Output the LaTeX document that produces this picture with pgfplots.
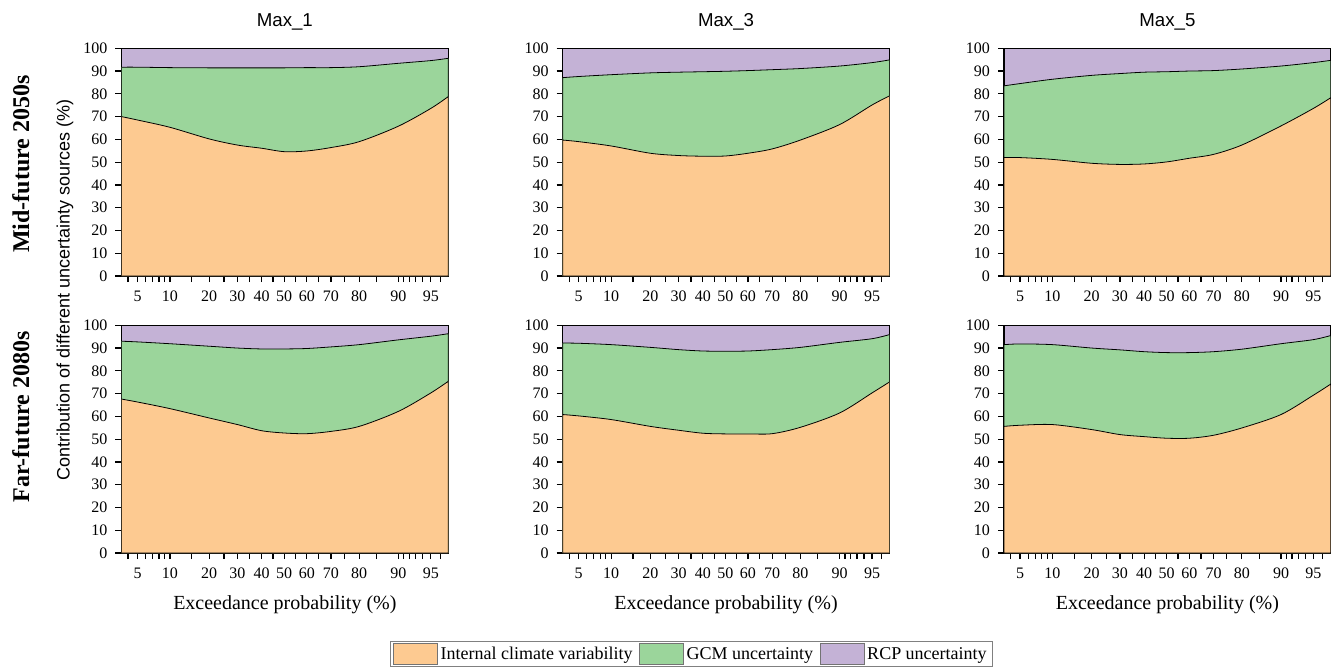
\documentclass[border=0pt]{standalone}
\usepackage{fontspec}
\setmainfont{Liberation Serif}
\setsansfont{Liberation Sans}
\usepackage{pgfplots}
\usepackage{pgfplotstable}
\pgfplotsset{compat=1.18}
\definecolor{orangeC}{RGB}{253,202,145}
\definecolor{greenC}{RGB}{155,213,155}
\definecolor{purpleC}{RGB}{196,178,214}

% columns: z (probit of exceedance probability), internal (lower), internal+GCM (upper)
\pgfplotstableread{
z lo hi
-1.825 70.0 91.7
-1.6449 68.5 91.7
-1.2816 65.3 91.5
-0.8416 60.2 91.4
-0.5244 57.5 91.4
-0.2533 56.1 91.4
0 54.6 91.4
0.2533 54.9 91.5
0.5244 56.4 91.5
0.8416 59.0 91.9
1.2816 65.8 93.4
1.6449 73.6 94.6
1.84 78.8 95.6
}\dataA
\pgfplotstableread{
z lo hi
-1.825 59.7 87.1
-1.6449 59.0 87.6
-1.2816 57.1 88.4
-0.8416 53.9 89.2
-0.5244 52.9 89.5
-0.2533 52.6 89.7
0 52.7 89.9
0.2533 53.9 90.2
0.5244 55.8 90.6
0.8416 59.7 91.1
1.2816 66.5 92.2
1.6449 75.1 93.7
1.84 79.1 94.9
}\dataB
\pgfplotstableread{
z lo hi
-1.825 52.0 83.5
-1.6449 52.0 84.5
-1.2816 51.2 86.4
-0.8416 49.5 88.1
-0.5244 49.0 88.9
-0.2533 49.2 89.5
0 50.1 89.7
0.2533 51.7 90.0
0.5244 53.4 90.2
0.8416 57.5 90.9
1.2816 65.9 92.2
1.6449 73.6 93.7
1.84 78.3 94.7
}\dataC
\pgfplotstableread{
z lo hi
-1.825 67.6 93.0
-1.6449 66.3 92.7
-1.2816 63.4 91.9
-0.8416 59.3 90.8
-0.5244 56.4 90.0
-0.2533 53.7 89.6
0 52.7 89.6
0.2533 52.4 89.8
0.5244 53.4 90.5
0.8416 55.6 91.5
1.2816 62.2 93.6
1.6449 70.3 95.2
1.84 75.4 96.3
}\dataD
\pgfplotstableread{
z lo hi
-1.825 60.8 92.2
-1.6449 60.2 92.1
-1.2816 58.6 91.5
-0.8416 55.6 90.3
-0.5244 53.9 89.3
-0.2533 52.6 88.7
0 52.3 88.6
0.2533 52.3 88.7
0.5244 52.4 89.3
0.8416 55.2 90.3
1.2816 61.5 92.5
1.6449 70.3 94.1
1.84 75.1 95.9
}\dataE
\pgfplotstableread{
z lo hi
-1.825 55.6 91.5
-1.6449 56.1 91.8
-1.2816 56.4 91.5
-0.8416 54.2 90.0
-0.5244 52.0 89.2
-0.2533 51.1 88.4
0 50.4 88.0
0.2533 50.4 88.0
0.5244 51.7 88.4
0.8416 54.9 89.5
1.2816 60.8 91.9
1.6449 69.3 93.7
1.84 74.2 95.5
}\dataF

\pgfplotsset{
 panel/.style={
  scale only axis, width=245.1pt, height=170.8pt,
  anchor=south west,
  xmin=-1.825, xmax=1.84, ymin=0, ymax=100,
  axis background/.style={fill=purpleC},
  axis line style={line width=0.9pt},
  tick style={line width=0.9pt, black},
  tick align=outside, xtick pos=left, ytick pos=left,
  major tick length=4.5pt, minor tick length=4.5pt,
  xtick={-1.6449,-1.2816,-0.8416,-0.5244,-0.2533,0,0.2533,0.5244,0.8416,1.2816,1.6449},
  xticklabels={5,10,20,30,40,50,60,70,80,90,95},
  minor xtick={-1.7507,-1.5548,-1.4758,-1.4051,-1.3408,-1.0364,-0.6745,-0.3853,-0.1257,0.1257,0.3853,0.6745,1.0364,1.3408,1.4051,1.4758,1.5548,1.7507},
  ytick={0,10,...,100},
  /pgf/number format/assume math mode=true,
  tick label style={font=\fontsize{12}{14}\selectfont},
  xticklabel style={yshift=-3pt},
  yticklabel style={xshift=-2.5pt},
  xlabel style={font=\fontsize{15}{17}\selectfont, yshift=-6pt},
  title style={font=\sffamily\fontsize{14}{16}\selectfont, yshift=4pt},
  legend image code/.code={\draw[#1,draw=black!55,line width=0.6pt] (0pt,-7.5pt) rectangle (33pt,8pt);},
 },
 bottomrow/.style={xlabel={Exceedance probability (\%)}},
 gcm/.style={fill=greenC, draw=black, line width=0.6pt, smooth, tension=0.5},
 icv/.style={fill=orangeC, draw=black, line width=0.6pt, smooth, tension=0.5},
}

\begin{document}
\begin{tikzpicture}
\path (-91.1pt,207pt) rectangle (907.9pt,-294.75pt);

\begin{axis}[panel, at={(0pt,0pt)}, title={Max\_1}]
\addplot[gcm] table[x=z,y=hi]{\dataA} \closedcycle;
\addplot[icv] table[x=z,y=lo]{\dataA} \closedcycle;
\end{axis}
\begin{axis}[panel, at={(330.9pt,0pt)}, title={Max\_3}]
\addplot[gcm] table[x=z,y=hi]{\dataB} \closedcycle;
\addplot[icv] table[x=z,y=lo]{\dataB} \closedcycle;
\end{axis}
\begin{axis}[panel, at={(661.9pt,0pt)}, title={Max\_5}]
\addplot[gcm] table[x=z,y=hi]{\dataC} \closedcycle;
\addplot[icv] table[x=z,y=lo]{\dataC} \closedcycle;
\end{axis}

\begin{axis}[panel, bottomrow, at={(0pt,-207.75pt)}]
\addplot[gcm] table[x=z,y=hi]{\dataD} \closedcycle;
\addplot[icv] table[x=z,y=lo]{\dataD} \closedcycle;
\end{axis}
\begin{axis}[panel, bottomrow, at={(330.9pt,-207.75pt)},
  legend style={at={(0.3935,-0.3865)}, anchor=north, legend columns=3,
    draw=black!50, line width=0.6pt, font=\fontsize{13.5}{15}\selectfont,
    inner xsep=2pt, inner ysep=1.5pt,
    /tikz/every even column/.append style={column sep=3pt}},
  legend cell align=left]
\addplot[gcm, forget plot] table[x=z,y=hi]{\dataE} \closedcycle;
\addplot[icv, forget plot] table[x=z,y=lo]{\dataE} \closedcycle;
\addlegendimage{fill=orangeC}
\addlegendentry{Internal climate variability}
\addlegendimage{fill=greenC}
\addlegendentry{GCM uncertainty}
\addlegendimage{fill=purpleC}
\addlegendentry{RCP uncertainty}
\end{axis}
\begin{axis}[panel, bottomrow, at={(661.9pt,-207.75pt)}]
\addplot[gcm] table[x=z,y=hi]{\dataF} \closedcycle;
\addplot[icv] table[x=z,y=lo]{\dataF} \closedcycle;
\end{axis}

\node[rotate=90, font=\bfseries\fontsize{18}{21}\selectfont] at (-75.4pt,84pt) {Mid-future 2050s};
\node[rotate=90, font=\bfseries\fontsize{18}{21}\selectfont] at (-75.4pt,-105.75pt) {Far-future 2080s};
\node[rotate=90, font=\sffamily\fontsize{13.5}{16}\selectfont] at (-42.4pt,-10.5pt) {Contribution of different uncertainty sources (\%)};
\end{tikzpicture}
\end{document}
